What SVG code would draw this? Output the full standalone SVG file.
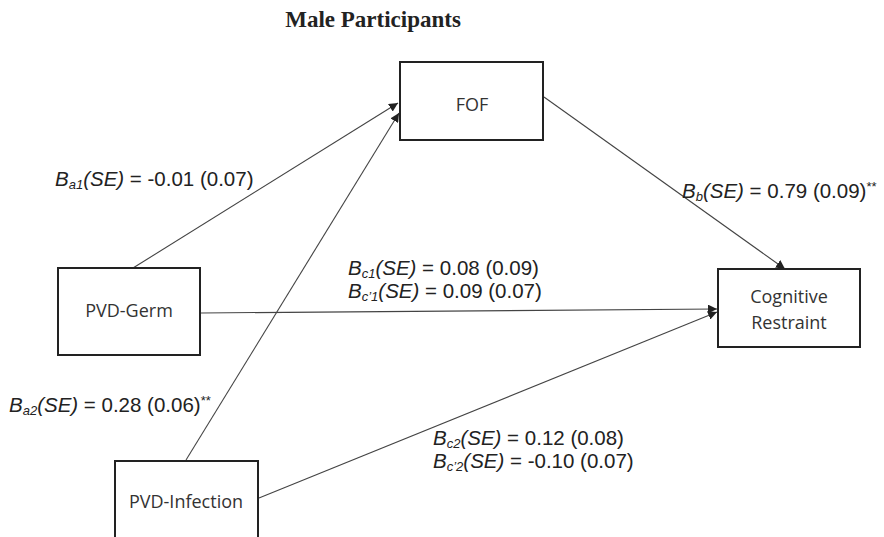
<svg xmlns="http://www.w3.org/2000/svg" width="884" height="537" viewBox="0 0 884 537">
<defs>
<marker id="arr" viewBox="0 0 10 10" refX="10" refY="5" markerWidth="9" markerHeight="9" markerUnits="userSpaceOnUse" orient="auto">
<path d="M0,0 L10,5 L0,10 z" fill="#222"/>
</marker>
<style>
.box{fill:#fff;stroke:#222;stroke-width:2}
.node{font-family:"Open Sans","Noto Sans",sans-serif;font-size:18px;fill:#333;text-anchor:middle}
.lbl{font-family:"Liberation Sans",Arial,sans-serif;font-size:20.5px;fill:#222}
.it{font-style:italic}
.sub{font-size:13px;font-style:italic}
.st{font-size:13px}
.edge{stroke:#444;stroke-width:1.1;fill:none;marker-end:url(#arr)}
.title{font-family:"Liberation Serif","Times New Roman",serif;font-weight:bold;font-size:23px;fill:#222;text-anchor:middle}
</style>
</defs>
<rect width="884" height="537" fill="#fff"/>
<text class="title" x="373" y="27">Male Participants</text>
<g id="connectors">
<line class="edge" x1="133" y1="268" x2="398" y2="103"/>
<line class="edge" x1="186" y1="460" x2="399" y2="113"/>
<line class="edge" x1="544" y1="97" x2="785" y2="269"/>
<line class="edge" x1="201" y1="313" x2="717" y2="309"/>
<line class="edge" x1="259" y1="498" x2="717" y2="312"/>
</g>
<g id="fof">
<rect class="box" x="400" y="62" width="143" height="78"/>
<text class="node" x="472" y="111">FOF</text>
</g>
<g id="pvd-germ">
<rect class="box" x="58" y="268" width="142" height="87"/>
<text class="node" x="129" y="317">PVD-Germ</text>
</g>
<g id="pvd-infection">
<rect class="box" x="115" y="461" width="143" height="90"/>
<text class="node" x="186" y="508">PVD-Infection</text>
</g>
<g id="cognitive-restraint">
<rect class="box" x="718" y="269" width="142" height="78"/>
<text class="node" x="789" y="303">Cognitive</text>
<text class="node" x="789" y="329">Restraint</text>
</g>
<g id="labels">
<text class="lbl" x="55" y="186"><tspan class="it">B</tspan><tspan class="sub" dy="3">a1</tspan><tspan class="it" dy="-3">(SE)</tspan> = -0.01 (0.07)</text>
<text class="lbl" x="682" y="198"><tspan class="it">B</tspan><tspan class="sub" dy="3">b</tspan><tspan class="it" dy="-3">(SE)</tspan> = 0.79 (0.09)<tspan class="st" dy="-7">**</tspan></text>
<text class="lbl" x="348" y="275"><tspan class="it">B</tspan><tspan class="sub" dy="3">c1</tspan><tspan class="it" dy="-3">(SE)</tspan> = 0.08 (0.09)</text>
<text class="lbl" x="348" y="298"><tspan class="it">B</tspan><tspan class="sub" dy="3">c’1</tspan><tspan class="it" dy="-3">(SE)</tspan> = 0.09 (0.07)</text>
<text class="lbl" x="9" y="412"><tspan class="it">B</tspan><tspan class="sub" dy="3">a2</tspan><tspan class="it" dy="-3">(SE)</tspan> = 0.28 (0.06)<tspan class="st" dy="-7">**</tspan></text>
<text class="lbl" x="433" y="445"><tspan class="it">B</tspan><tspan class="sub" dy="3">c2</tspan><tspan class="it" dy="-3">(SE)</tspan> = 0.12 (0.08)</text>
<text class="lbl" x="433" y="468"><tspan class="it">B</tspan><tspan class="sub" dy="3">c’2</tspan><tspan class="it" dy="-3">(SE)</tspan> = -0.10 (0.07)</text>
</g>
</svg>
